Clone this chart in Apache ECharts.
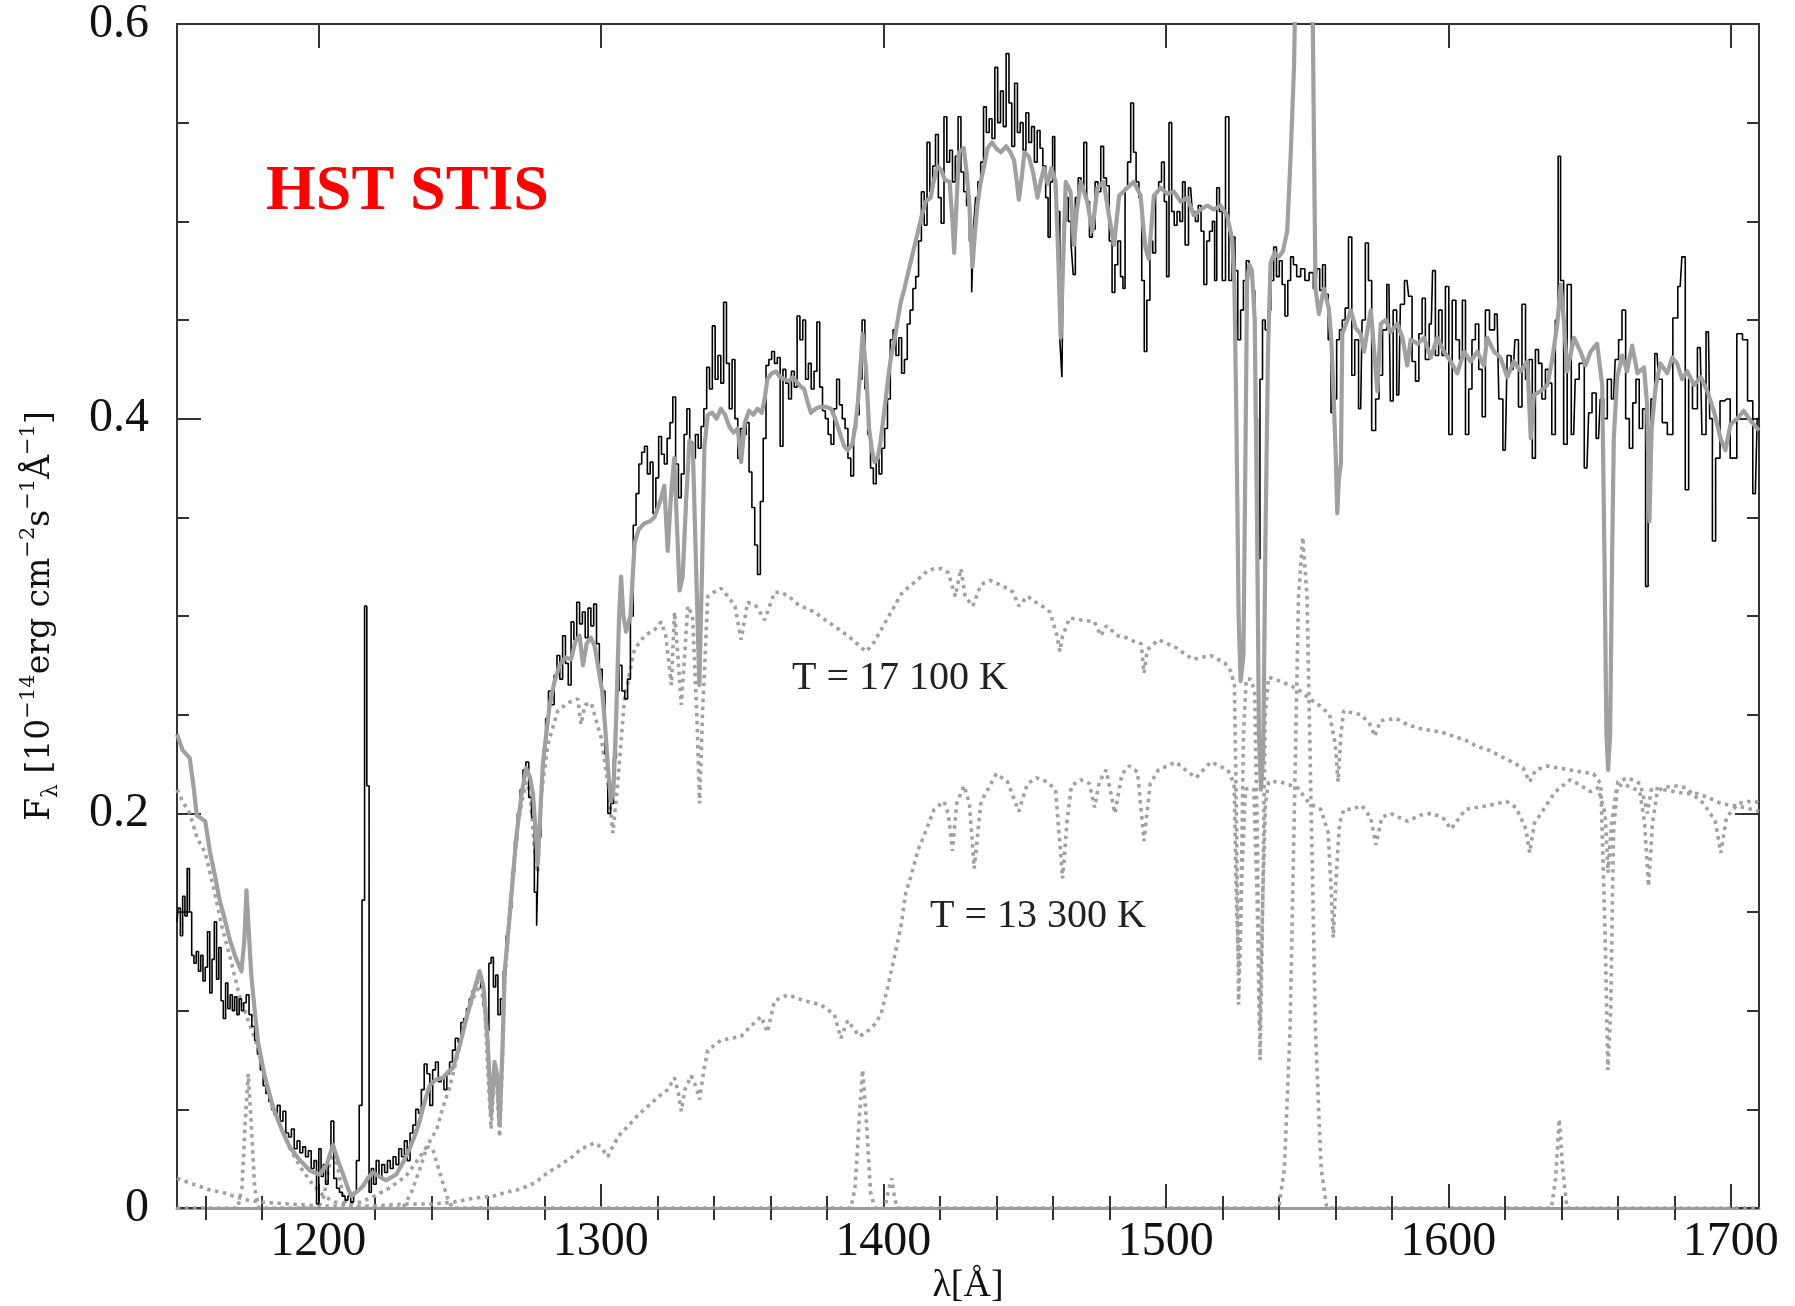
<!DOCTYPE html>
<html>
<head>
<meta charset="utf-8">
<title>HST STIS spectrum</title>
<script src="https://cdn.jsdelivr.net/npm/echarts@6/dist/echarts.min.js"></script>
<style>
  html, body { margin: 0; padding: 0; background: #ffffff; }
  #chart { width: 1795px; height: 1306px; }
</style>
</head>
<body>
<div id="chart"></div>
<script>
// Observed STIS spectrum (wavelength in Angstrom, flux in 1e-14 erg/cm2/s/A)
const obsWave = [1150.0,1150.8,1151.6,1152.4,1153.2,1154.0,1154.8,1155.6,1156.4,1157.2,1158.0,1158.8,1159.6,1160.4,1161.2,1162.0,1162.8,1163.6,1164.4,1165.2,1166.0,1166.8,1167.6,1168.4,1169.2,1170.0,1170.8,1171.6,1172.4,1173.2,1174.0,1175.0,1176.0,1177.0,1178.0,1179.0,1180.0,1181.0,1182.0,1183.0,1184.0,1185.0,1186.0,1187.0,1188.0,1189.0,1190.0,1191.0,1192.0,1193.0,1194.0,1195.0,1196.0,1197.0,1198.0,1199.0,1199.8,1200.6,1201.4,1202.2,1203.0,1204.0,1205.0,1206.0,1207.0,1208.0,1209.0,1210.0,1211.0,1212.0,1213.0,1214.0,1215.0,1216.0,1216.8,1217.6,1218.4,1219.2,1220.0,1221.0,1222.0,1223.0,1224.0,1225.0,1226.0,1227.0,1228.0,1229.0,1230.0,1231.0,1232.0,1233.0,1234.0,1235.0,1236.0,1237.0,1238.0,1239.0,1240.0,1241.0,1242.0,1243.0,1244.0,1245.0,1246.0,1247.0,1248.0,1249.0,1250.0,1251.0,1252.0,1253.0,1254.0,1255.0,1256.0,1257.0,1258.0,1259.0,1260.0,1260.8,1261.6,1262.4,1263.2,1264.0,1265.0,1266.0,1267.0,1268.0,1269.0,1270.0,1271.0,1272.0,1273.0,1274.0,1275.0,1276.0,1277.0,1277.6,1278.4,1279.2,1280.0,1281.0,1282.0,1283.0,1284.0,1285.0,1286.0,1287.0,1288.0,1289.0,1290.0,1291.0,1292.0,1293.0,1294.0,1295.0,1296.0,1297.0,1298.0,1299.0,1300.0,1301.0,1302.0,1303.0,1304.0,1305.0,1306.0,1307.0,1308.0,1309.0,1310.0,1311.0,1312.0,1313.0,1314.0,1315.0,1316.0,1317.0,1318.0,1319.0,1320.0,1321.0,1322.0,1323.0,1324.0,1325.0,1326.0,1327.0,1328.0,1329.0,1330.0,1331.0,1332.0,1333.0,1334.0,1335.0,1336.0,1337.0,1338.0,1339.0,1340.0,1341.0,1342.0,1343.0,1344.0,1345.0,1346.0,1347.0,1348.0,1349.0,1350.0,1351.0,1352.0,1353.0,1354.0,1355.0,1356.0,1357.0,1358.0,1359.0,1360.0,1361.0,1362.0,1363.0,1364.0,1365.0,1366.0,1367.0,1368.0,1369.0,1370.0,1371.0,1372.0,1373.0,1374.0,1375.0,1376.0,1377.0,1378.0,1379.0,1380.0,1381.0,1382.0,1383.0,1384.0,1385.0,1386.0,1387.0,1388.0,1389.0,1390.0,1391.0,1392.0,1393.0,1394.0,1395.0,1396.0,1397.0,1398.0,1399.0,1400.0,1401.0,1402.0,1403.0,1404.0,1405.0,1406.0,1407.0,1408.0,1409.0,1410.0,1411.0,1412.0,1413.0,1414.0,1415.0,1416.0,1417.0,1418.0,1419.0,1420.0,1421.0,1422.0,1423.0,1424.0,1425.0,1426.0,1427.0,1428.0,1429.0,1430.0,1431.0,1431.6,1432.4,1433.0,1434.0,1435.0,1436.0,1437.0,1438.0,1439.0,1440.0,1441.0,1442.0,1443.0,1444.0,1445.0,1446.0,1447.0,1448.0,1449.0,1450.0,1451.0,1452.0,1453.0,1454.0,1455.0,1456.0,1457.0,1458.0,1458.7,1459.5,1460.4,1461.0,1462.0,1463.0,1463.5,1464.2,1465.0,1466.0,1467.0,1467.5,1468.5,1469.5,1470.5,1471.5,1472.5,1473.5,1474.5,1475.5,1476.5,1477.5,1478.5,1479.5,1480.5,1481.5,1482.5,1483.5,1484.5,1485.2,1486.0,1487.0,1488.2,1489.0,1490.0,1491.0,1492.0,1492.8,1493.8,1495.0,1495.8,1497.0,1498.0,1499.0,1500.0,1500.6,1501.7,1502.5,1503.5,1504.5,1505.5,1506.4,1507.3,1508.8,1510.0,1511.0,1512.0,1513.0,1514.0,1515.0,1516.0,1517.0,1517.6,1518.5,1519.5,1520.5,1521.8,1522.9,1524.0,1525.0,1526.0,1527.0,1528.0,1529.0,1530.0,1531.0,1532.0,1532.9,1533.8,1534.7,1535.7,1536.7,1537.7,1538.7,1539.7,1540.7,1541.7,1542.7,1543.7,1544.7,1545.7,1547.0,1548.5,1550.0,1551.5,1553.0,1554.0,1555.0,1556.0,1557.0,1558.0,1559.0,1560.0,1561.0,1562.0,1563.0,1564.0,1565.4,1566.3,1567.5,1569.0,1570.0,1571.3,1572.2,1573.6,1575.0,1576.0,1577.5,1579.0,1580.0,1581.0,1582.5,1583.6,1585.4,1586.6,1587.8,1589.0,1590.2,1591.3,1592.5,1594.0,1594.9,1596.0,1597.2,1598.4,1599.6,1600.8,1602.0,1603.4,1604.5,1605.5,1606.7,1607.8,1609.0,1610.2,1611.4,1612.6,1613.7,1615.5,1617.3,1618.5,1620.2,1621.5,1623.0,1624.2,1625.5,1626.7,1628.0,1629.2,1630.3,1631.4,1632.5,1633.8,1635.0,1636.0,1637.3,1638.5,1639.3,1640.2,1641.5,1642.7,1644.4,1645.5,1647.2,1649.1,1650.3,1651.5,1653.2,1654.4,1655.6,1657.0,1658.5,1659.7,1660.9,1662.1,1663.5,1664.7,1665.9,1667.0,1668.2,1669.4,1670.3,1671.2,1672.3,1673.9,1675.0,1676.5,1678.6,1680.4,1682.1,1683.3,1684.5,1685.7,1687.2,1689.2,1690.4,1692.1,1693.0,1694.0,1695.3,1697.1,1698.6,1701.0,1703.3,1705.0,1706.9,1708.7,1710.0];
const obsFlux = [0.145,0.152,0.138,0.158,0.148,0.172,0.150,0.128,0.124,0.130,0.120,0.128,0.115,0.122,0.140,0.109,0.126,0.145,0.116,0.132,0.105,0.096,0.114,0.101,0.108,0.100,0.107,0.098,0.106,0.100,0.104,0.108,0.098,0.092,0.085,0.078,0.070,0.062,0.058,0.054,0.050,0.047,0.052,0.044,0.049,0.038,0.036,0.040,0.030,0.034,0.028,0.031,0.026,0.029,0.020,0.024,0.002,0.030,0.016,0.022,0.012,0.026,0.044,0.015,0.010,0.008,0.006,0.004,0.006,0.003,0.008,0.024,0.052,0.156,0.305,0.214,0.008,0.020,0.012,0.024,0.016,0.022,0.018,0.024,0.020,0.026,0.022,0.030,0.026,0.034,0.024,0.038,0.042,0.050,0.048,0.060,0.073,0.068,0.052,0.070,0.074,0.064,0.066,0.060,0.068,0.074,0.080,0.086,0.084,0.094,0.096,0.101,0.106,0.110,0.114,0.118,0.112,0.102,0.090,0.124,0.127,0.112,0.118,0.098,0.106,0.120,0.138,0.152,0.170,0.186,0.200,0.212,0.222,0.226,0.208,0.198,0.160,0.143,0.188,0.215,0.232,0.248,0.262,0.255,0.270,0.280,0.268,0.290,0.276,0.265,0.297,0.288,0.307,0.296,0.302,0.289,0.304,0.295,0.306,0.286,0.273,0.262,0.230,0.200,0.205,0.228,0.262,0.275,0.262,0.258,0.268,0.300,0.346,0.362,0.377,0.383,0.386,0.372,0.378,0.352,0.370,0.391,0.382,0.377,0.390,0.398,0.411,0.377,0.360,0.372,0.392,0.405,0.388,0.380,0.392,0.385,0.396,0.405,0.426,0.415,0.447,0.420,0.432,0.418,0.459,0.428,0.405,0.430,0.400,0.380,0.395,0.392,0.398,0.373,0.355,0.336,0.321,0.358,0.390,0.427,0.430,0.434,0.428,0.431,0.386,0.425,0.418,0.410,0.424,0.416,0.452,0.440,0.450,0.420,0.428,0.415,0.424,0.449,0.416,0.404,0.400,0.392,0.387,0.405,0.420,0.407,0.400,0.395,0.380,0.371,0.395,0.402,0.420,0.450,0.415,0.392,0.375,0.367,0.380,0.372,0.385,0.395,0.410,0.440,0.445,0.432,0.441,0.423,0.430,0.448,0.455,0.466,0.472,0.490,0.515,0.498,0.540,0.515,0.528,0.544,0.512,0.499,0.553,0.530,0.536,0.520,0.533,0.553,0.525,0.515,0.508,0.490,0.464,0.498,0.512,0.520,0.530,0.558,0.545,0.552,0.542,0.578,0.550,0.566,0.548,0.585,0.560,0.538,0.570,0.545,0.550,0.536,0.555,0.540,0.548,0.530,0.546,0.537,0.528,0.512,0.492,0.520,0.543,0.515,0.505,0.440,0.421,0.500,0.512,0.500,0.488,0.473,0.512,0.522,0.518,0.540,0.510,0.492,0.496,0.520,0.515,0.538,0.522,0.518,0.490,0.464,0.478,0.490,0.472,0.466,0.517,0.530,0.560,0.535,0.520,0.512,0.470,0.434,0.460,0.490,0.484,0.515,0.520,0.530,0.510,0.472,0.550,0.505,0.498,0.505,0.500,0.520,0.488,0.517,0.505,0.500,0.508,0.495,0.468,0.490,0.495,0.500,0.470,0.517,0.505,0.470,0.553,0.470,0.492,0.475,0.440,0.455,0.470,0.480,0.475,0.465,0.400,0.329,0.420,0.450,0.445,0.455,0.470,0.487,0.472,0.480,0.468,0.452,0.470,0.482,0.478,0.472,0.476,0.470,0.474,0.466,0.476,0.465,0.478,0.463,0.440,0.403,0.410,0.440,0.445,0.450,0.456,0.492,0.422,0.440,0.405,0.450,0.489,0.470,0.394,0.410,0.422,0.445,0.468,0.409,0.455,0.412,0.458,0.470,0.462,0.429,0.419,0.443,0.461,0.430,0.448,0.475,0.432,0.455,0.432,0.467,0.392,0.460,0.440,0.430,0.460,0.392,0.415,0.440,0.448,0.425,0.401,0.455,0.445,0.453,0.410,0.384,0.432,0.425,0.440,0.406,0.458,0.420,0.430,0.380,0.435,0.428,0.410,0.425,0.418,0.392,0.450,0.533,0.470,0.387,0.468,0.392,0.420,0.428,0.375,0.403,0.413,0.390,0.410,0.400,0.420,0.410,0.430,0.440,0.455,0.400,0.385,0.408,0.420,0.395,0.405,0.315,0.380,0.410,0.433,0.420,0.398,0.392,0.451,0.467,0.482,0.364,0.420,0.405,0.436,0.392,0.444,0.400,0.338,0.380,0.409,0.410,0.380,0.443,0.440,0.409,0.362,0.400];

// Composite model spectrum (sum of the two photospheres and the line emission)
const modelWave = [1150.0,1152.0,1154.5,1156.0,1157.0,1160.0,1161.6,1163.5,1165.1,1167.0,1168.7,1170.5,1172.8,1173.8,1174.6,1175.4,1176.3,1177.5,1178.7,1181.0,1184.0,1187.0,1189.9,1193.0,1197.0,1200.5,1203.0,1205.2,1207.0,1208.8,1210.5,1211.7,1213.5,1215.8,1217.5,1219.4,1221.5,1224.0,1227.6,1230.0,1232.3,1234.0,1235.9,1237.5,1239.4,1241.5,1244.1,1246.0,1247.7,1250.0,1252.4,1254.5,1257.1,1258.5,1260.0,1261.2,1262.4,1263.3,1264.2,1265.2,1266.0,1267.7,1270.1,1272.0,1273.6,1275.0,1276.0,1277.0,1277.7,1278.6,1279.5,1281.9,1283.5,1285.4,1287.5,1289.5,1291.0,1292.5,1293.7,1295.0,1296.5,1297.8,1299.0,1300.5,1301.5,1302.5,1303.6,1304.5,1305.5,1306.5,1307.2,1308.0,1309.0,1310.5,1312.0,1313.5,1315.5,1317.5,1319.0,1320.5,1321.4,1322.5,1323.7,1324.9,1326.0,1327.0,1327.9,1329.0,1330.2,1331.4,1332.6,1333.8,1334.9,1335.8,1336.7,1337.9,1339.5,1341.0,1342.5,1344.0,1345.5,1347.0,1348.5,1349.7,1351.0,1352.5,1354.0,1355.5,1357.0,1358.0,1359.0,1360.5,1362.0,1363.5,1365.0,1366.5,1368.0,1369.7,1371.0,1372.0,1373.3,1374.4,1376.0,1377.8,1379.5,1381.5,1383.0,1385.0,1386.2,1387.4,1389.0,1390.0,1391.0,1392.0,1392.7,1393.9,1395.0,1396.0,1396.9,1398.0,1399.0,1400.4,1401.5,1402.7,1404.0,1405.0,1406.2,1407.5,1408.5,1409.8,1411.5,1413.3,1415.0,1416.8,1417.8,1419.2,1420.5,1421.8,1423.5,1424.5,1425.1,1425.8,1426.8,1428.5,1429.5,1430.4,1431.6,1432.5,1433.3,1434.5,1436.0,1436.9,1438.5,1440.0,1441.6,1443.5,1445.0,1446.3,1447.3,1448.0,1449.0,1450.0,1451.5,1453.0,1454.6,1455.7,1456.9,1458.2,1459.5,1461.0,1462.0,1462.8,1463.7,1464.6,1466.3,1467.5,1468.5,1469.9,1472.2,1474.0,1475.8,1478.0,1479.9,1481.7,1483.5,1486.4,1488.7,1491.1,1492.2,1492.9,1494.0,1495.8,1498.2,1500.5,1502.9,1505.3,1507.6,1510.0,1512.3,1514.7,1517.0,1519.4,1521.7,1523.5,1524.3,1525.0,1525.8,1526.5,1527.5,1528.2,1528.8,1529.6,1530.5,1531.5,1532.3,1533.0,1533.7,1534.5,1535.3,1536.2,1537.1,1538.5,1540.0,1541.5,1543.0,1544.2,1545.4,1546.3,1548.0,1550.0,1551.7,1552.4,1553.0,1554.2,1556.0,1557.7,1558.6,1559.5,1560.2,1560.7,1561.3,1562.0,1562.5,1564.3,1565.5,1567.2,1569.0,1570.2,1571.4,1572.6,1573.8,1574.9,1576.1,1577.9,1579.6,1582.0,1583.8,1585.5,1586.7,1589.1,1591.4,1593.8,1596.1,1598.5,1600.9,1603.2,1605.6,1607.9,1610.3,1612.6,1613.8,1616.2,1618.5,1620.9,1623.2,1625.6,1628.0,1629.2,1630.3,1632.7,1635.1,1636.8,1638.6,1639.8,1641.0,1642.1,1644.5,1646.8,1648.6,1650.4,1652.7,1654.5,1655.3,1656.0,1656.6,1657.3,1658.0,1658.6,1659.8,1661.6,1663.3,1665.1,1667.0,1669.3,1670.4,1671.2,1672.0,1673.4,1675.1,1677.5,1679.3,1681.0,1682.8,1684.6,1687.0,1689.4,1691.7,1694.0,1696.4,1698.1,1699.9,1702.3,1704.6,1707.0,1710.0];
const modelFlux = [0.240,0.232,0.228,0.212,0.199,0.196,0.181,0.168,0.156,0.146,0.136,0.128,0.120,0.135,0.161,0.140,0.118,0.100,0.084,0.067,0.051,0.040,0.031,0.025,0.019,0.017,0.022,0.032,0.024,0.017,0.010,0.006,0.008,0.011,0.015,0.018,0.016,0.014,0.017,0.023,0.030,0.036,0.044,0.053,0.062,0.065,0.066,0.069,0.071,0.082,0.096,0.107,0.120,0.112,0.084,0.047,0.074,0.068,0.042,0.080,0.120,0.147,0.188,0.210,0.223,0.218,0.210,0.190,0.174,0.200,0.225,0.255,0.266,0.275,0.279,0.278,0.287,0.290,0.275,0.286,0.289,0.285,0.275,0.262,0.245,0.224,0.206,0.212,0.250,0.300,0.320,0.300,0.292,0.300,0.337,0.344,0.347,0.348,0.350,0.356,0.360,0.366,0.333,0.362,0.380,0.345,0.313,0.320,0.358,0.389,0.385,0.322,0.265,0.320,0.386,0.402,0.403,0.400,0.405,0.402,0.396,0.393,0.395,0.378,0.398,0.404,0.402,0.405,0.403,0.410,0.420,0.423,0.424,0.421,0.420,0.419,0.421,0.418,0.416,0.415,0.408,0.403,0.405,0.406,0.406,0.405,0.400,0.391,0.386,0.384,0.387,0.395,0.408,0.428,0.443,0.425,0.395,0.384,0.378,0.380,0.388,0.404,0.418,0.431,0.440,0.449,0.459,0.466,0.472,0.480,0.490,0.501,0.510,0.512,0.520,0.528,0.526,0.521,0.520,0.500,0.484,0.505,0.535,0.537,0.525,0.510,0.477,0.495,0.508,0.520,0.530,0.537,0.540,0.537,0.535,0.538,0.535,0.531,0.520,0.511,0.522,0.535,0.533,0.525,0.512,0.520,0.527,0.519,0.527,0.520,0.480,0.441,0.480,0.520,0.515,0.488,0.505,0.520,0.510,0.495,0.517,0.520,0.503,0.488,0.513,0.517,0.520,0.513,0.495,0.486,0.481,0.513,0.517,0.514,0.515,0.510,0.512,0.503,0.506,0.508,0.506,0.508,0.503,0.491,0.469,0.400,0.300,0.267,0.280,0.380,0.470,0.478,0.475,0.450,0.350,0.240,0.212,0.230,0.340,0.434,0.479,0.484,0.482,0.485,0.495,0.533,0.578,0.650,0.720,0.720,0.650,0.550,0.466,0.453,0.466,0.456,0.440,0.409,0.380,0.352,0.370,0.377,0.443,0.450,0.455,0.446,0.443,0.434,0.445,0.455,0.434,0.414,0.448,0.450,0.444,0.448,0.441,0.427,0.440,0.438,0.441,0.431,0.441,0.434,0.429,0.423,0.434,0.429,0.434,0.427,0.441,0.434,0.431,0.421,0.429,0.424,0.429,0.390,0.412,0.414,0.417,0.430,0.448,0.468,0.448,0.424,0.441,0.434,0.427,0.434,0.438,0.417,0.330,0.240,0.222,0.240,0.330,0.390,0.421,0.432,0.424,0.437,0.423,0.426,0.407,0.348,0.395,0.416,0.428,0.423,0.431,0.428,0.420,0.424,0.417,0.421,0.414,0.404,0.390,0.384,0.397,0.400,0.404,0.399,0.394];

// Photosphere model, T = 17 100 K
const hotWave = [1150.0,1152.0,1154.5,1157.0,1160.0,1163.0,1166.0,1169.0,1172.0,1175.0,1178.0,1181.0,1184.0,1187.0,1190.0,1194.0,1198.0,1202.0,1206.0,1210.0,1215.0,1220.0,1225.0,1228.0,1231.0,1234.0,1237.0,1240.0,1242.0,1244.1,1246.5,1248.9,1251.2,1253.6,1256.0,1257.5,1259.0,1260.0,1261.2,1262.3,1263.3,1264.2,1265.2,1266.0,1268.3,1270.7,1272.4,1273.6,1275.0,1276.6,1277.7,1279.0,1281.3,1284.8,1288.4,1291.9,1293.0,1294.5,1296.6,1300.2,1302.5,1304.3,1306.0,1308.4,1311.9,1315.5,1319.0,1321.4,1323.0,1325.0,1326.1,1327.3,1328.5,1329.7,1330.8,1332.5,1334.0,1335.0,1336.0,1337.9,1340.0,1342.6,1345.0,1347.5,1349.7,1352.0,1355.0,1358.0,1361.5,1363.8,1366.5,1369.7,1372.5,1375.6,1378.5,1381.5,1384.5,1387.4,1390.0,1392.1,1394.0,1396.9,1399.2,1401.6,1404.0,1406.3,1408.5,1411.0,1413.5,1415.7,1418.0,1420.4,1423.0,1425.5,1427.5,1429.0,1431.7,1434.6,1437.9,1441.0,1444.0,1446.0,1448.0,1451.0,1454.0,1456.3,1459.0,1461.5,1462.5,1463.5,1466.0,1470.0,1474.8,1477.0,1479.0,1483.0,1486.0,1489.0,1491.3,1492.3,1493.5,1497.4,1500.5,1503.6,1506.5,1509.7,1512.5,1515.9,1518.5,1521.0,1523.0,1524.3,1525.0,1525.8,1526.6,1527.5,1528.5,1530.0,1531.5,1532.5,1533.4,1534.3,1535.2,1536.4,1540.5,1546.7,1551.0,1555.0,1558.0,1560.0,1561.0,1562.0,1563.0,1566.0,1569.0,1572.0,1574.0,1576.0,1581.6,1585.5,1589.8,1594.0,1598.0,1602.0,1606.2,1610.0,1614.4,1618.5,1622.6,1626.5,1628.8,1631.0,1635.0,1639.0,1643.0,1647.0,1651.4,1654.0,1655.5,1656.5,1657.5,1658.5,1660.0,1663.7,1668.0,1670.5,1672.0,1676.0,1680.0,1684.0,1688.3,1692.0,1696.5,1700.5,1704.8,1710.0];
const hotFlux = [0.212,0.206,0.200,0.188,0.180,0.162,0.142,0.126,0.108,0.096,0.084,0.067,0.051,0.040,0.030,0.020,0.012,0.006,0.003,0.002,0.003,0.006,0.010,0.013,0.016,0.022,0.028,0.035,0.040,0.051,0.061,0.075,0.089,0.102,0.110,0.113,0.100,0.070,0.040,0.068,0.060,0.036,0.075,0.115,0.160,0.195,0.208,0.216,0.210,0.181,0.170,0.210,0.235,0.252,0.256,0.258,0.245,0.255,0.256,0.238,0.215,0.190,0.215,0.258,0.283,0.290,0.293,0.297,0.290,0.265,0.302,0.280,0.255,0.280,0.305,0.300,0.250,0.205,0.250,0.310,0.312,0.314,0.310,0.305,0.288,0.307,0.305,0.298,0.312,0.312,0.310,0.306,0.304,0.302,0.299,0.296,0.293,0.290,0.287,0.284,0.282,0.287,0.293,0.299,0.305,0.311,0.314,0.317,0.320,0.323,0.324,0.324,0.322,0.310,0.324,0.310,0.305,0.316,0.318,0.316,0.314,0.312,0.305,0.310,0.307,0.305,0.302,0.290,0.282,0.290,0.299,0.298,0.297,0.290,0.295,0.290,0.289,0.287,0.286,0.271,0.283,0.288,0.286,0.284,0.281,0.278,0.279,0.280,0.278,0.276,0.272,0.265,0.200,0.103,0.150,0.240,0.268,0.268,0.262,0.180,0.075,0.150,0.250,0.269,0.267,0.263,0.258,0.254,0.250,0.235,0.216,0.240,0.252,0.251,0.250,0.246,0.239,0.247,0.248,0.245,0.243,0.242,0.241,0.239,0.237,0.234,0.232,0.229,0.226,0.223,0.216,0.222,0.224,0.223,0.222,0.221,0.220,0.215,0.140,0.070,0.100,0.190,0.216,0.218,0.215,0.200,0.213,0.212,0.211,0.210,0.210,0.208,0.205,0.204,0.203,0.201];

// Photosphere model, T = 13 300 K
const coolWave = [1150.0,1154.0,1158.0,1162.0,1166.0,1170.0,1175.0,1180.0,1190.0,1200.0,1210.0,1220.0,1230.0,1240.0,1248.0,1255.0,1262.0,1266.5,1270.0,1274.0,1277.0,1281.3,1286.0,1290.0,1293.1,1297.8,1300.0,1302.5,1304.5,1307.2,1310.0,1313.1,1317.8,1321.0,1323.7,1326.1,1327.5,1328.5,1329.8,1332.0,1333.6,1335.0,1336.5,1337.9,1342.6,1346.0,1349.7,1353.0,1356.8,1359.0,1361.5,1366.2,1372.1,1378.0,1382.7,1385.0,1387.4,1389.5,1391.5,1394.0,1396.9,1399.2,1401.6,1403.9,1406.3,1408.0,1409.8,1412.2,1414.5,1418.0,1421.5,1423.0,1424.5,1426.0,1428.6,1430.5,1432.2,1434.6,1437.0,1440.0,1444.0,1448.0,1451.0,1454.3,1458.0,1461.0,1463.5,1465.0,1466.6,1470.0,1473.0,1474.8,1476.5,1478.9,1482.0,1484.5,1487.1,1490.0,1492.3,1494.5,1497.4,1503.6,1507.0,1510.7,1515.9,1519.0,1522.0,1524.2,1525.1,1526.0,1527.0,1528.2,1529.5,1531.2,1532.3,1533.2,1534.2,1535.3,1536.4,1540.5,1546.7,1550.8,1554.9,1557.5,1558.6,1559.3,1560.2,1561.5,1563.1,1566.0,1569.3,1572.5,1574.4,1576.5,1579.5,1582.5,1585.7,1590.0,1593.9,1598.0,1601.0,1603.0,1606.2,1610.0,1614.4,1617.5,1620.6,1624.0,1627.5,1628.8,1630.5,1632.9,1636.0,1638.0,1640.5,1643.2,1647.0,1650.4,1653.0,1655.5,1656.6,1657.8,1659.5,1661.6,1665.0,1667.8,1669.5,1670.9,1672.3,1674.0,1676.0,1680.0,1684.2,1687.0,1690.4,1694.5,1696.5,1698.5,1702.7,1706.0,1708.9,1710.0];
const coolFlux = [0.015,0.013,0.011,0.009,0.008,0.006,0.004,0.003,0.002,0.001,0.001,0.001,0.002,0.002,0.003,0.005,0.006,0.008,0.009,0.011,0.013,0.018,0.022,0.026,0.030,0.033,0.031,0.026,0.032,0.038,0.042,0.047,0.053,0.057,0.060,0.066,0.058,0.049,0.060,0.067,0.062,0.055,0.070,0.080,0.085,0.086,0.087,0.092,0.097,0.089,0.105,0.108,0.105,0.103,0.098,0.086,0.095,0.091,0.087,0.089,0.093,0.098,0.112,0.127,0.143,0.160,0.168,0.181,0.189,0.202,0.206,0.200,0.181,0.205,0.214,0.205,0.172,0.206,0.212,0.220,0.216,0.201,0.215,0.218,0.216,0.212,0.167,0.195,0.214,0.217,0.215,0.203,0.216,0.222,0.200,0.220,0.224,0.221,0.186,0.215,0.222,0.226,0.222,0.218,0.226,0.224,0.222,0.215,0.150,0.120,0.170,0.212,0.213,0.212,0.160,0.090,0.150,0.205,0.216,0.216,0.213,0.205,0.202,0.190,0.160,0.137,0.165,0.195,0.202,0.202,0.204,0.198,0.184,0.198,0.200,0.198,0.196,0.199,0.200,0.198,0.192,0.196,0.202,0.203,0.204,0.205,0.206,0.203,0.192,0.180,0.195,0.200,0.207,0.211,0.214,0.217,0.214,0.211,0.213,0.200,0.170,0.195,0.212,0.215,0.213,0.211,0.195,0.163,0.195,0.211,0.213,0.214,0.213,0.209,0.205,0.196,0.180,0.198,0.205,0.206,0.206,0.205];

// Line emission component
const lineWave = [1150.0,1171.5,1173.0,1174.2,1175.2,1176.2,1177.5,1179.0,1200.0,1202.0,1204.0,1205.5,1207.0,1209.0,1211.0,1230.0,1233.0,1236.0,1238.5,1240.5,1243.0,1245.5,1247.5,1388.5,1390.0,1391.5,1392.7,1394.0,1395.5,1397.0,1400.5,1402.0,1403.0,1404.0,1405.0,1540.0,1542.0,1544.0,1545.5,1547.0,1548.5,1550.0,1551.5,1553.0,1555.0,1557.0,1636.5,1638.0,1639.3,1640.5,1642.0,1710.0];
const lineFlux = [0.0,0.0,0.010,0.045,0.068,0.045,0.010,0.0,0.0,0.006,0.022,0.030,0.020,0.004,0.0,0.0,0.008,0.020,0.031,0.030,0.018,0.006,0.0,0.0,0.010,0.045,0.070,0.045,0.008,0.0,0.0,0.010,0.015,0.005,0.0,0.0,0.020,0.090,0.200,0.310,0.340,0.310,0.200,0.090,0.020,0.0,0.0,0.015,0.045,0.020,0.0,0.0];

// Axis ticks
const xMajorTicks = [1200, 1300, 1400, 1500, 1600, 1700];
const xMinorTicks = [1160, 1180, 1220, 1240, 1260, 1280, 1320, 1340, 1360, 1380, 1420, 1440, 1460, 1480,
                     1520, 1540, 1560, 1580, 1620, 1640, 1660, 1680];

const pairs = (xs, ys) => xs.map((x, i) => [x, ys[i]]);

const SERIF = "'Liberation Serif', 'Times New Roman', serif";
const AXIS_COLOR = '#333333';
const MODEL_GRAY = '#a0a0a0';

const X_MIN = 1150, X_MAX = 1710;

function xAxisDef(position, ticks, len, lineColor, withLabels) {
  return {
    type: 'value', gridIndex: 0, position: position, min: X_MIN, max: X_MAX,
    axisLine: lineColor
      ? { show: true, onZero: false, lineStyle: { color: lineColor, width: position === 'bottom' ? 3 : 2 } }
      : { show: false },
    axisTick: { show: true, inside: true, length: len, customValues: ticks,
                lineStyle: { color: AXIS_COLOR, width: 2 } },
    axisLabel: withLabels
      ? { show: true, customValues: ticks, fontFamily: SERIF, fontSize: 48, color: '#111', margin: 10,
          formatter: (v) => String(v) }
      : { show: false },
    splitLine: { show: false }, minorTick: { show: false }
  };
}

function yAxisDef(position, withLabels) {
  return {
    type: 'value', gridIndex: 0, position: position, min: 0, max: 0.6, interval: 0.2,
    axisLine: { show: true, onZero: false, lineStyle: { color: AXIS_COLOR, width: 2 } },
    axisTick: { show: true, inside: true, length: 24, lineStyle: { color: AXIS_COLOR, width: 2 } },
    minorTick: { show: true, splitNumber: 4, length: 12, lineStyle: { color: AXIS_COLOR, width: 2 } },
    axisLabel: withLabels
      ? { show: true, fontFamily: SERIF, fontSize: 48, color: '#111', margin: 28 }
      : { show: false },
    splitLine: { show: false }, minorSplitLine: { show: false }
  };
}

const dotted = { color: MODEL_GRAY, width: 3.6, type: [3.5, 4.5], cap: 'butt' };

const chart = echarts.init(document.getElementById('chart'), null, { renderer: 'canvas' });

chart.setOption({
  backgroundColor: '#ffffff',
  animation: false,
  grid: { left: 177, right: 36, top: 24, bottom: 98, containLabel: false },
  xAxis: [
    xAxisDef('bottom', xMajorTicks, 24, '#9a9a9a', true),
    xAxisDef('bottom', xMinorTicks, 12, null, false),
    xAxisDef('top', xMajorTicks, 24, AXIS_COLOR, false),
    xAxisDef('top', xMinorTicks, 12, null, false)
  ],
  yAxis: [yAxisDef('left', true), yAxisDef('right', false)],
  series: [
    { name: 'T = 13 300 K', type: 'line', data: pairs(coolWave, coolFlux), showSymbol: false,
      lineStyle: dotted, z: 2, silent: true },
    { name: 'T = 17 100 K', type: 'line', data: pairs(hotWave, hotFlux), showSymbol: false,
      lineStyle: dotted, z: 2, silent: true },
    { name: 'lines', type: 'line', data: pairs(lineWave, lineFlux), showSymbol: false,
      lineStyle: dotted, z: 2, silent: true },
    { name: 'STIS', type: 'line', step: 'middle', data: pairs(obsWave, obsFlux), showSymbol: false,
      lineStyle: { color: '#000000', width: 1.6 }, z: 3, silent: true },
    { name: 'model', type: 'line', data: pairs(modelWave, modelFlux), showSymbol: false,
      lineStyle: { color: MODEL_GRAY, width: 4.2, join: 'round' }, z: 4, silent: true }
  ],
  graphic: [
    { type: 'text', x: 266, y: 192, z: 10,
      style: { text: 'HST STIS', fill: '#ff0000', font: "bold 64px 'Liberation Serif', serif",
               align: 'left', verticalAlign: 'middle', textAlign: 'left', textVerticalAlign: 'middle' } },
    { type: 'text', x: 792, y: 678, z: 10,
      style: { text: 'T = 17 100 K', fill: '#222', font: "40px 'Liberation Serif', serif",
               align: 'left', verticalAlign: 'middle', textAlign: 'left', textVerticalAlign: 'middle' } },
    { type: 'text', x: 930, y: 916, z: 10,
      style: { text: 'T = 13 300 K', fill: '#222', font: "40px 'Liberation Serif', serif",
               align: 'left', verticalAlign: 'middle', textAlign: 'left', textVerticalAlign: 'middle' } },
    { type: 'text', x: 968, y: 1286, z: 10,
      style: { text: 'λ[Å]', fill: '#111', font: "38px 'Liberation Serif', serif",
               align: 'center', verticalAlign: 'middle', textAlign: 'center', textVerticalAlign: 'middle' } },
    { type: 'text', x: 40, y: 616, rotation: Math.PI / 2, z: 10,
      style: {
        text: '{m|F}{sub|λ}{m| [10}{sup|−14}{m|erg cm}{sup|−2}{m|s}{sup|−1}{m|Å}{sup|−1}{m|]}',
        align: 'center', verticalAlign: 'middle', textAlign: 'center', textVerticalAlign: 'middle',
        fill: '#111',
        rich: {
          m:   { fontFamily: "'DejaVu Serif', serif", fontSize: 33, lineHeight: 44, verticalAlign: 'middle', fill: '#111' },
          sup: { fontFamily: "'DejaVu Serif', serif", fontSize: 21, lineHeight: 24, verticalAlign: 'top', fill: '#111' },
          sub: { fontFamily: "'DejaVu Serif', serif", fontSize: 22, lineHeight: 30, verticalAlign: 'bottom', fill: '#111' }
        }
      } }
  ]
});
</script>
</body>
</html>
